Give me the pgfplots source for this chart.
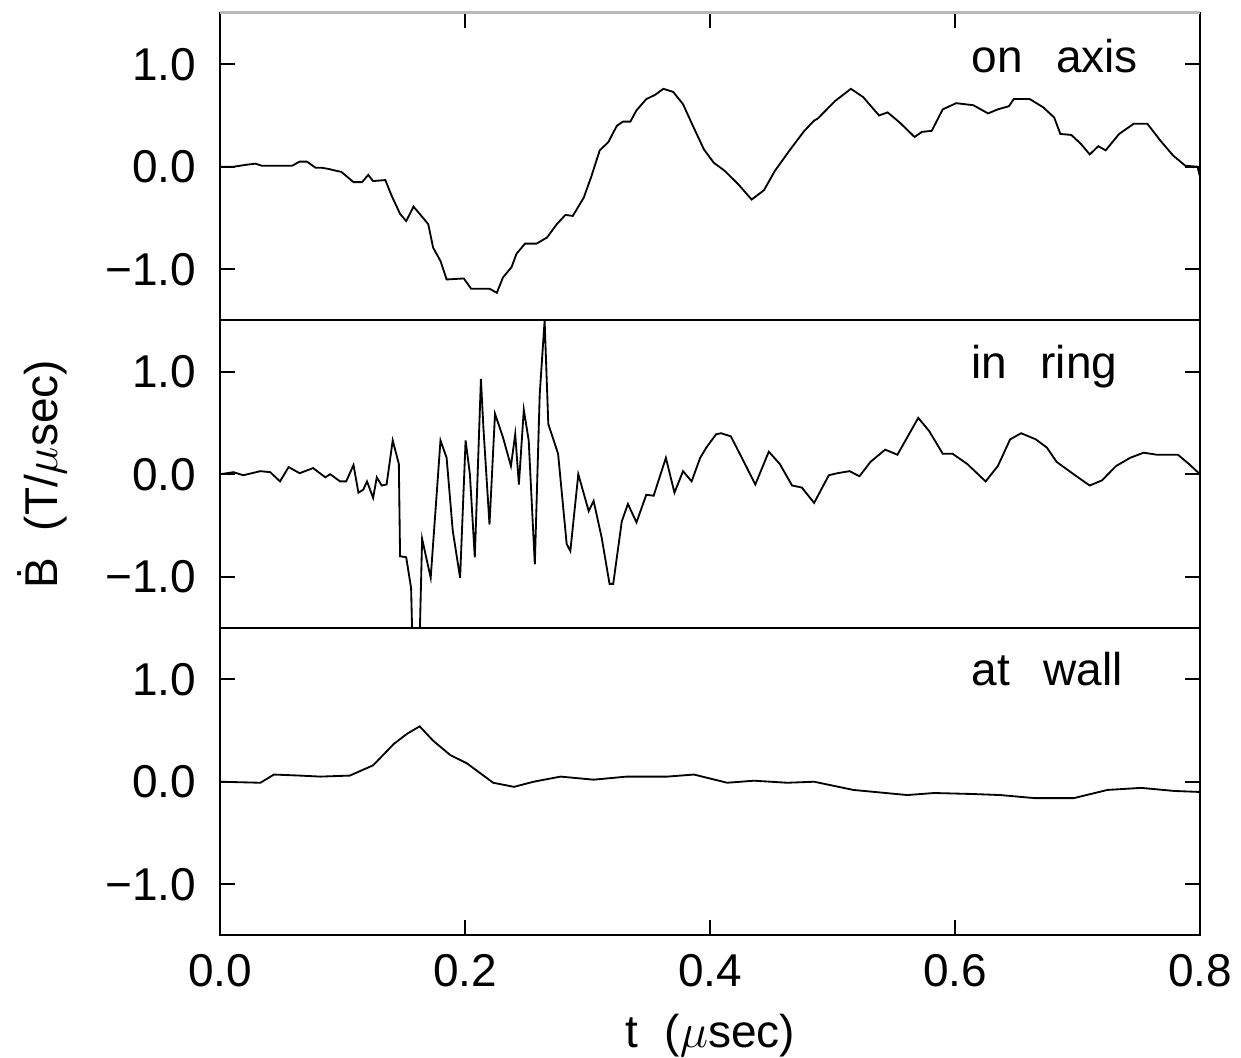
\documentclass[border=0pt]{standalone}
\usepackage{fontspec}
\setmainfont{Liberation Sans}
\usepackage{pgfplots}
\pgfplotsset{compat=1.18}

\newcommand{\lblfont}{\fontsize{13.8}{16}\selectfont}

\pgfplotsset{
  panel/.style={
    scale only axis, width=294pt, height=92.25pt,
    xmin=0, xmax=0.8, ymin=-1.5, ymax=1.5,
    ytick={-1,0,1}, yticklabels={−1.0,0.0,1.0},
    ytick pos=both, yticklabel pos=left,
    xtick={0,0.2,0.4,0.6,0.8},
    tick align=inside, major tick length=4.5pt,
    every tick/.style={black, line width=0.6pt},
    axis line style={black, line width=0.6pt},
    tick label style={font=\lblfont},
    yticklabel style={inner sep=0pt, xshift=-6.9pt},
    xticklabel style={inner sep=0pt, yshift=-5.4pt},
    clip=true,
  },
  trace/.style={black, line width=0.55pt, no marks},
}

% dB/dt probe signals, t in microseconds
\pgfplotstableread{
t y
0.000 0.00
0.011 0.00
0.022 0.02
0.029 0.03
0.034 0.01
0.046 0.01
0.059 0.01
0.065 0.05
0.071 0.05
0.078 -0.01
0.083 -0.01
0.088 -0.02
0.095 -0.04
0.099 -0.05
0.105 -0.11
0.109 -0.15
0.116 -0.15
0.121 -0.08
0.125 -0.14
0.135 -0.13
0.140 -0.28
0.147 -0.46
0.152 -0.53
0.158 -0.39
0.163 -0.46
0.170 -0.56
0.174 -0.79
0.180 -0.92
0.185 -1.10
0.199 -1.09
0.205 -1.19
0.220 -1.19
0.226 -1.23
0.231 -1.08
0.238 -0.98
0.242 -0.85
0.249 -0.75
0.2585 -0.75
0.267 -0.69
0.275 -0.56
0.282 -0.47
0.288 -0.48
0.297 -0.30
0.303 -0.10
0.310 0.16
0.317 0.24
0.324 0.40
0.329 0.44
0.335 0.44
0.340 0.55
0.348 0.66
0.355 0.70
0.362 0.76
0.370 0.73
0.378 0.61
0.386 0.40
0.395 0.17
0.403 0.04
0.412 -0.04
0.423 -0.17
0.434 -0.32
0.444 -0.23
0.453 -0.04
0.465 0.16
0.477 0.35
0.485 0.45
0.488 0.47
0.502 0.64
0.515 0.76
0.525 0.68
0.538 0.50
0.545 0.53
0.555 0.43
0.567 0.29
0.573 0.34
0.581 0.35
0.590 0.56
0.601 0.62
0.615 0.60
0.627 0.52
0.635 0.56
0.644 0.59
0.648 0.66
0.661 0.66
0.672 0.58
0.681 0.48
0.686 0.32
0.695 0.31
0.703 0.22
0.710 0.12
0.717 0.20
0.723 0.16
0.734 0.32
0.746 0.42
0.757 0.42
0.768 0.25
0.778 0.11
0.788 0.01
0.798 0.00
0.800 -0.10
}\onaxis

\pgfplotstableread{
t y
0.000 0.00
0.011 0.02
0.019 -0.01
0.033 0.03
0.041 0.02
0.049 -0.07
0.056 0.07
0.065 0.01
0.076 0.06
0.086 -0.03
0.090 0.00
0.098 -0.07
0.103 -0.07
0.109 0.09
0.113 -0.18
0.117 -0.15
0.120 -0.07
0.125 -0.23
0.128 -0.03
0.132 -0.11
0.136 -0.10
0.141 0.33
0.146 0.10
0.147 -0.80
0.152 -0.81
0.156 -1.11
0.157 -1.60
0.163 -1.60
0.165 -0.63
0.172 -1.01
0.180 0.33
0.185 0.16
0.190 -0.55
0.196 -1.01
0.2005 0.33
0.204 0.00
0.208 -0.81
0.213 0.93
0.215 0.46
0.220 -0.49
0.2245 0.59
0.231 0.36
0.2375 0.08
0.241 0.39
0.244 -0.10
0.248 0.63
0.252 0.33
0.257 -0.88
0.261 0.78
0.265 1.50
0.268 0.49
0.276 0.20
0.283 -0.68
0.286 -0.75
0.2925 0.00
0.301 -0.36
0.305 -0.26
0.3116 -0.62
0.318 -1.07
0.321 -1.07
0.328 -0.46
0.333 -0.29
0.340 -0.47
0.348 -0.20
0.354 -0.21
0.364 0.16
0.371 -0.18
0.378 0.03
0.385 -0.07
0.392 0.16
0.397 0.26
0.405 0.39
0.409 0.40
0.417 0.37
0.426 0.16
0.437 -0.10
0.448 0.22
0.457 0.10
0.467 -0.11
0.475 -0.13
0.485 -0.28
0.497 -0.01
0.504 0.01
0.514 0.03
0.522 -0.02
0.531 0.12
0.543 0.24
0.553 0.19
0.562 0.38
0.570 0.55
0.579 0.42
0.590 0.20
0.598 0.20
0.610 0.10
0.625 -0.07
0.635 0.08
0.645 0.34
0.654 0.40
0.666 0.34
0.675 0.26
0.683 0.12
0.698 -0.01
0.710 -0.11
0.720 -0.06
0.7315 0.08
0.743 0.16
0.754 0.21
0.765 0.19
0.782 0.19
0.791 0.10
0.800 0.00
}\inring

\pgfplotstableread{
t y
0.000 0.00
0.033 -0.01
0.044 0.07
0.065 0.06
0.082 0.05
0.106 0.06
0.125 0.16
0.142 0.37
0.153 0.47
0.163 0.54
0.174 0.40
0.188 0.26
0.2015 0.18
0.223 -0.01
0.240 -0.05
0.256 0.00
0.278 0.05
0.305 0.02
0.332 0.05
0.365 0.05
0.387 0.07
0.414 -0.01
0.436 0.01
0.463 -0.01
0.485 0.00
0.517 -0.08
0.561 -0.13
0.583 -0.11
0.615 -0.12
0.637 -0.13
0.665 -0.16
0.697 -0.16
0.7245 -0.08
0.752 -0.06
0.779 -0.09
0.800 -0.10
}\atwall

\begin{document}
\begin{tikzpicture}
\useasboundingbox (-66pt,-36.6pt) rectangle (306.3pt,280.65pt);

% bottom panel
\begin{axis}[panel, name=bot, at={(0pt,0pt)}, anchor=south west,
  xtick pos=bottom, xticklabels={0.0,0.2,0.4,0.6,0.8}]
  \addplot[trace] table[x=t, y=y] {\atwall};
  \node[anchor=base west, inner sep=0pt, font=\lblfont] at (axis cs:0.613,0.94) {at\hspace{10pt}wall};
\end{axis}

% middle panel
\begin{axis}[panel, name=mid, at={(0pt,92.25pt)}, anchor=south west,
  xmajorticks=false]
  \addplot[trace] table[x=t, y=y] {\inring};
  \node[anchor=base west, inner sep=0pt, font=\lblfont] at (axis cs:0.613,0.93) {in\hspace{10pt}ring};
\end{axis}

% top panel
\begin{axis}[panel, name=top, at={(0pt,184.5pt)}, anchor=south west,
  xtick pos=top, xticklabels={}]
  \addplot[trace] table[x=t, y=y] {\onaxis};
  \node[anchor=base west, inner sep=0pt, font=\lblfont] at (axis cs:0.613,0.92) {on\hspace{10pt}axis};
\end{axis}
\draw[color=gray!55, line width=0.9pt] (top.north west) -- (top.north east);

% shared axis labels
\node[rotate=90, anchor=base, font=\lblfont] at ([xshift=-48.6pt]mid.west)
  {\.{B}\hspace{8pt}(T/$\mu$sec)};
\node[anchor=base, font=\lblfont] at ([yshift=-33.6pt]bot.south)
  {t\hspace{8pt}($\mu$sec)};
\end{tikzpicture}
\end{document}
